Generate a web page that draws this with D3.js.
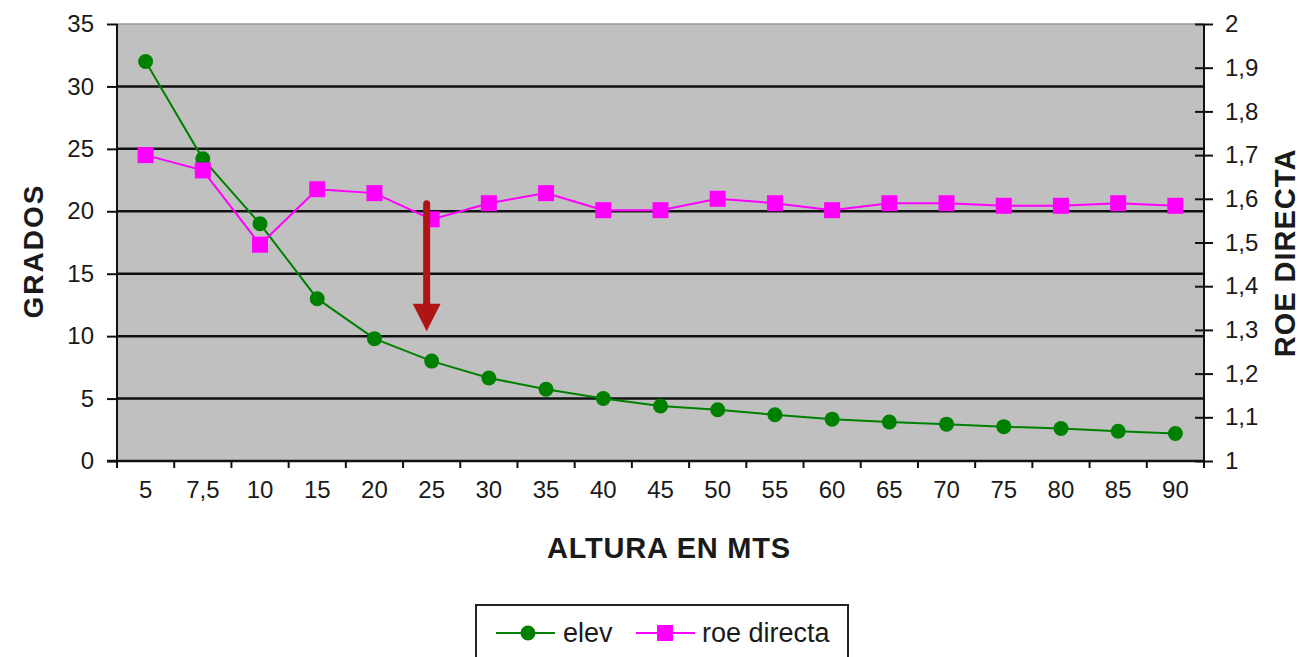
<!DOCTYPE html>
<html>
<head>
<meta charset="utf-8">
<script src="https://cdn.jsdelivr.net/npm/d3@7"></script>
<style>
	body { margin: 0; background: #fff; }
	text { font-family: "Liberation Sans", Arial, sans-serif; fill: #1a1a1a; }
</style>
</head>
<body>
<script>
// data
const alturas = ["5", "7,5", "10", "15", "20", "25", "30", "35", "40", "45", "50", "55", "60", "65", "70", "75", "80", "85", "90"];
const elev = [32, 24.2, 19, 13, 9.8, 8, 6.65, 5.75, 5, 4.4, 4.1, 3.7, 3.35, 3.12, 2.95, 2.75, 2.6, 2.38, 2.2];
const roeDirecta = [1.70, 1.665, 1.495, 1.622, 1.613, 1.553, 1.59, 1.613, 1.574, 1.574, 1.60, 1.59, 1.574, 1.59, 1.59, 1.584, 1.584, 1.59, 1.584];
const leftTicks = [0, 5, 10, 15, 20, 25, 30, 35];
const rightTicks = [1, 1.1, 1.2, 1.3, 1.4, 1.5, 1.6, 1.7, 1.8, 1.9, 2];

// svg canvas and scales
const width = 1301,
	  height = 657,
	  pLeft = 117, pRight = 1204, pTop = 24, pBottom = 461,
	  svg = d3.select("body")
			  .append("svg")
			  .attr("width", width)
			  .attr("height", height),
	  xScale = d3.scaleBand()
				 .domain(alturas)
				 .range([pLeft, pRight]),
	  yLeft = d3.scaleLinear()
				.domain([0, 35])
				.range([pBottom, pTop]),
	  yRight = d3.scaleLinear()
				 .domain([1, 2])
				 .range([pBottom, pTop]),
	  fmt = d => String(d).replace(".", ",");

// plot area
svg.append("rect")
   .attr("x", pLeft)
   .attr("y", pTop)
   .attr("width", pRight - pLeft)
   .attr("height", pBottom - pTop)
   .attr("fill", "#c0c0c0")
   .attr("stroke", "#999")
   .attr("stroke-width", 1.5);

// gridlines
svg.selectAll(".grid")
   .data(leftTicks.filter(d => d > 0 && d < 35))
   .enter()
   .append("line")
   .attr("x1", pLeft)
   .attr("x2", pRight)
   .attr("y1", d => yLeft(d))
   .attr("y2", d => yLeft(d))
   .attr("stroke", "#111")
   .attr("stroke-width", 2.5);

// left axis
const axL = svg.append("g")
			   .attr("transform", `translate(${pLeft},0)`)
			   .call(d3.axisLeft(yLeft).tickValues(leftTicks).tickSize(10).tickPadding(13));
axL.selectAll("path, line").attr("stroke", "#111").attr("stroke-width", 2);
axL.select(".domain").attr("d", `M0,${pTop}V${pBottom}`);
axL.selectAll("text").style("font-size", "24px").attr("fill", "#1a1a1a");

// right axis
const axR = svg.append("g")
			   .attr("transform", `translate(${pRight},0)`)
			   .call(d3.axisRight(yRight).tickValues(rightTicks).tickSize(9).tickPadding(12).tickFormat(fmt));
axR.selectAll("line").attr("x1", -9);
axR.selectAll("path, line").attr("stroke", "#111").attr("stroke-width", 2);
axR.select(".domain").attr("d", `M0,${pTop}V${pBottom}`);
axR.selectAll("text").style("font-size", "24px").attr("fill", "#1a1a1a");

// bottom axis
svg.append("line")
   .attr("x1", pLeft - 10)
   .attr("x2", pRight)
   .attr("y1", pBottom)
   .attr("y2", pBottom)
   .attr("stroke", "#111")
   .attr("stroke-width", 2.5);
svg.selectAll(".xtick")
   .data(alturas.concat([null]))
   .enter()
   .append("line")
   .attr("x1", (d, i) => pLeft + i * xScale.bandwidth())
   .attr("x2", (d, i) => pLeft + i * xScale.bandwidth())
   .attr("y1", pBottom)
   .attr("y2", pBottom + 7)
   .attr("stroke", "#111")
   .attr("stroke-width", 2);
svg.selectAll(".xlabel")
   .data(alturas)
   .enter()
   .append("text")
   .attr("x", d => xScale(d) + xScale.bandwidth() / 2)
   .attr("y", 498)
   .attr("text-anchor", "middle")
   .style("font-size", "24px")
   .text(d => d);

// axis titles
svg.append("text")
   .attr("transform", "translate(43,251) rotate(-90)")
   .attr("text-anchor", "middle")
   .style("font-size", "28px")
   .style("font-weight", "bold")
   .style("letter-spacing", "2px")
   .text("GRADOS");
svg.append("text")
   .attr("transform", "translate(1295,253) rotate(-90)")
   .attr("text-anchor", "middle")
   .style("font-size", "29px")
   .style("font-weight", "bold")
   .style("letter-spacing", "1px")
   .text("ROE DIRECTA");
svg.append("text")
   .attr("x", 669)
   .attr("y", 558)
   .attr("text-anchor", "middle")
   .style("font-size", "29px")
   .style("font-weight", "bold")
   .style("letter-spacing", "0.8px")
   .text("ALTURA EN MTS");

const cx = d => xScale(d) + xScale.bandwidth() / 2;

// elev series
svg.append("path")
   .datum(elev)
   .attr("fill", "none")
   .attr("stroke", "#008000")
   .attr("stroke-width", 2)
   .attr("d", d3.line().x((d, i) => cx(alturas[i])).y(d => yLeft(d)));
svg.selectAll(".elev")
   .data(elev)
   .enter()
   .append("circle")
   .attr("cx", (d, i) => cx(alturas[i]))
   .attr("cy", d => yLeft(d))
   .attr("r", 7.5)
   .attr("fill", "#008000");

// roe directa series
svg.append("path")
   .datum(roeDirecta)
   .attr("fill", "none")
   .attr("stroke", "#ff00ff")
   .attr("stroke-width", 2)
   .attr("d", d3.line().x((d, i) => cx(alturas[i])).y(d => yRight(d)));
svg.selectAll(".roe")
   .data(roeDirecta)
   .enter()
   .append("rect")
   .attr("x", (d, i) => cx(alturas[i]) - 8)
   .attr("y", d => yRight(d) - 8)
   .attr("width", 16)
   .attr("height", 16)
   .attr("fill", "#ff00ff");

// arrow annotation
const ax = cx("25") - 5;
svg.append("line")
   .attr("x1", ax)
   .attr("x2", ax)
   .attr("y1", yLeft(20.6))
   .attr("y2", yLeft(12.4))
   .attr("stroke", "#b01515")
   .attr("stroke-width", 7)
   .attr("stroke-linecap", "round");
svg.append("path")
   .attr("d", `M${ax - 14},${yLeft(12.6)}L${ax + 14},${yLeft(12.6)}L${ax},${yLeft(10.4)}Z`)
   .attr("fill", "#b01515");

// legend
const legend = svg.append("g");
legend.append("rect")
	  .attr("x", 476)
	  .attr("y", 605)
	  .attr("width", 372)
	  .attr("height", 70)
	  .attr("fill", "#fff")
	  .attr("stroke", "#222")
	  .attr("stroke-width", 2);
legend.append("line")
	  .attr("x1", 496).attr("x2", 555).attr("y1", 633).attr("y2", 633)
	  .attr("stroke", "#008000").attr("stroke-width", 2);
legend.append("circle")
	  .attr("cx", 528).attr("cy", 633).attr("r", 7.5)
	  .attr("fill", "#008000");
legend.append("text")
	  .attr("x", 563).attr("y", 642)
	  .style("font-size", "27px")
	  .text("elev");
legend.append("line")
	  .attr("x1", 636).attr("x2", 695).attr("y1", 633).attr("y2", 633)
	  .attr("stroke", "#ff00ff").attr("stroke-width", 2);
legend.append("rect")
	  .attr("x", 657).attr("y", 625).attr("width", 16).attr("height", 16)
	  .attr("fill", "#ff00ff");
legend.append("text")
	  .attr("x", 702).attr("y", 642)
	  .style("font-size", "27px")
	  .text("roe directa");
</script>
</body>
</html>
